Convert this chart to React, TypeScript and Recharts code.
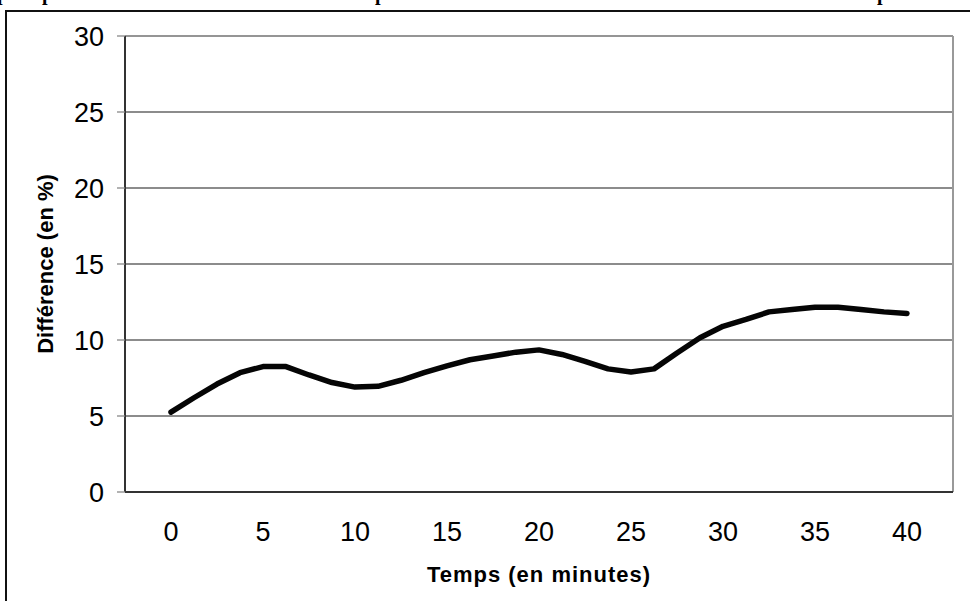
import {
  LineChart,
  Line,
  XAxis,
  YAxis,
  CartesianGrid,
  ReferenceLine,
} from "recharts";

// time in minutes, one reading every 1.25 min
const minutes = [
  0, 1.25, 2.5, 3.75, 5, 6.25, 7.5, 8.75, 10, 11.25, 12.5, 13.75, 15, 16.25,
  17.5, 18.75, 20, 21.25, 22.5, 23.75, 25, 26.25, 27.5, 28.75, 30, 31.25, 32.5,
  33.75, 35, 36.25, 37.5, 38.75, 40,
];

// difference in %
const difference = [
  5.25, 6.2, 7.1, 7.85, 8.25, 8.25, 7.7, 7.2, 6.9, 6.95, 7.35, 7.85, 8.3, 8.7,
  8.95, 9.2, 9.35, 9.05, 8.6, 8.1, 7.9, 8.1, 9.15, 10.15, 10.9, 11.35, 11.85,
  12.0, 12.15, 12.15, 12.0, 11.85, 11.75,
];

const xTicks = [0, 5, 10, 15, 20, 25, 30, 35, 40];
const yTicks = [0, 5, 10, 15, 20, 25, 30];

const xTitle = "Temps (en minutes)";
const yTitle = "Différence (en %)";

// only the descenders of the clipped title line are visible
const titleGlyphs = [
  { ch: "p", x: -3 },
  { ch: "p", x: 42 },
  { ch: "p", x: 375 },
  { ch: "p", x: 877 },
];

const data = minutes.map((t, i) => ({ t, v: difference[i] }));

const font = "Arial, 'Liberation Sans', Helvetica, sans-serif";

export default function App() {
  return (
    <div
      style={{
        position: "absolute",
        left: 0,
        top: 0,
        width: 970,
        height: 601,
        overflow: "hidden",
        background: "#fff",
      }}
    >
      {/* clipped title */}
      <svg
        width={970}
        height={10}
        style={{ position: "absolute", left: 0, top: 0 }}
      >
        {titleGlyphs.map((g, i) => (
          <text
            key={i}
            x={g.x}
            y={-0.5}
            fontFamily="'Liberation Serif', 'Times New Roman', serif"
            fontWeight="bold"
            fontSize={20}
            fill="#000"
          >
            {g.ch}
          </text>
        ))}
      </svg>

      {/* outer frame of the chart object */}
      <div
        style={{
          position: "absolute",
          left: 5,
          top: 10,
          width: 1100,
          height: 800,
          border: "2px solid #111",
          boxSizing: "border-box",
        }}
      />

      <div style={{ position: "absolute", left: 0, top: 0 }}>
        <LineChart
          width={970}
          height={601}
          data={data}
          margin={{ top: 36, right: 17, bottom: 9, left: 0 }}
        >
          <CartesianGrid
            vertical={false}
            stroke="#666"
            strokeWidth={1.3}
          />
          <ReferenceLine y={30} stroke="#999" strokeWidth={1.5} />
          <ReferenceLine x={42.5} stroke="#999" strokeWidth={2} />
          <XAxis
            type="number"
            dataKey="t"
            domain={[-2.5, 42.5]}
            ticks={xTicks}
            height={100}
            tickLine={false}
            tickSize={6}
            tickMargin={24}
            axisLine={{ stroke: "#333", strokeWidth: 2 }}
            tick={{ fill: "#000", fontSize: 27, fontFamily: font }}
            label={{
              value: xTitle,
              position: "insideBottom",
              offset: 10,
              fill: "#000",
              fontSize: 22,
              fontWeight: "bold",
              fontFamily: font,
              letterSpacing: 1,
            }}
          />
          <YAxis
            type="number"
            domain={[0, 30]}
            ticks={yTicks}
            width={125}
            tickSize={8}
            tickMargin={13}
            tickLine={{ stroke: "#888", strokeWidth: 1.3 }}
            axisLine={{ stroke: "#333", strokeWidth: 2 }}
            tick={{ fill: "#000", fontSize: 27, fontFamily: font }}
            label={{
              value: yTitle,
              angle: -90,
              position: "insideLeft",
              offset: 45,
              fill: "#000",
              fontSize: 22,
              fontWeight: "bold",
              fontFamily: font,
              style: { textAnchor: "middle" },
            }}
          />
          <Line
            type="linear"
            dataKey="v"
            stroke="#050505"
            strokeWidth={5.5}
            strokeLinecap="round"
            strokeLinejoin="round"
            dot={false}
            activeDot={false}
            isAnimationActive={false}
          />
        </LineChart>
      </div>
    </div>
  );
}
